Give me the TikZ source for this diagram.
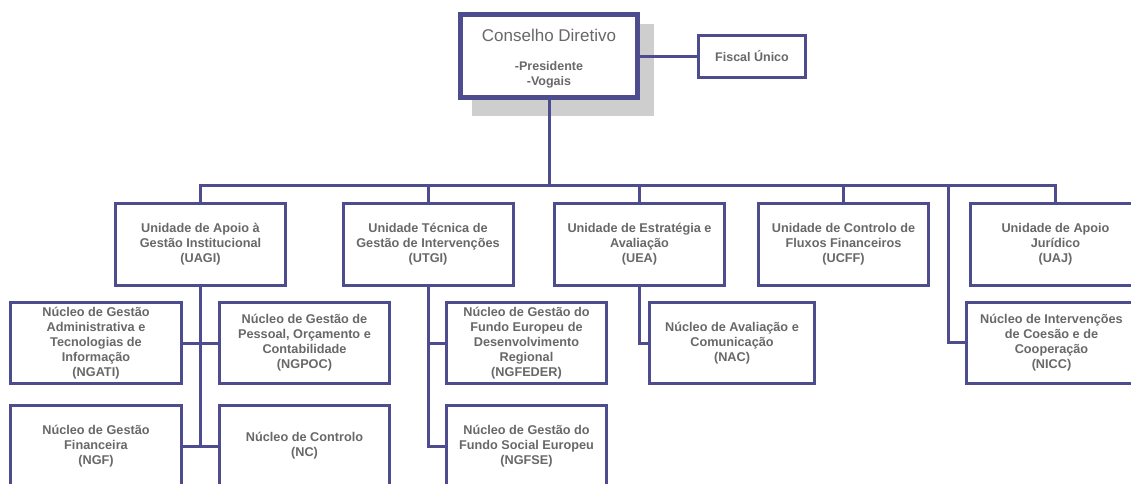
\documentclass[tikz,border=0pt]{standalone}
\usepackage{fontspec}
\setmainfont{Liberation Sans}

\definecolor{orgline}{RGB}{76,76,142}
\definecolor{orgtext}{RGB}{104,104,104}
\definecolor{orgshadow}{RGB}{206,206,206}

\begin{document}
\begin{tikzpicture}[x=1pt, y=-1pt, font=\bfseries\fontsize{12.7}{15}\selectfont,
	box/.style={draw=orgline, line width=3pt, fill=white, align=center, text=orgtext, inner sep=2pt},
	unit/.style={box, minimum width=170pt, minimum height=82pt},
	nucleo/.style={box, minimum height=81pt},
	link/.style={draw=orgline, line width=3pt}]
	\useasboundingbox (0,0) rectangle (1131,483);
		% top
		\fill[orgshadow] (472,24) rectangle (654,116);
		\node[box, line width=5pt, minimum width=177pt, minimum height=83pt](cd) at (549,56) {};
		\node[text=orgtext, font=\mdseries\fontsize{17}{19}\selectfont](cdtitle) at (549,35) {Conselho Diretivo};
		\node[text=orgtext, align=center, font=\bfseries\fontsize{12.5}{15}\selectfont](cdmembers) at (549,75) {-Presidente\\-Vogais};
		\node[box, font=\bfseries\fontsize{12.5}{15}\selectfont, minimum width=107pt, minimum height=42pt](fu) at (752,56.5) {Fiscal Único};
		% unidades
		\node[unit](uagi) at (200.5,244.5) {Unidade de Apoio à\\Gestão Institucional\\(UAGI)};
		\node[unit](utgi) at (428,244.5) {Unidade Técnica de\\Gestão de Intervenções\\(UTGI)};
		\node[unit](uea) at (639.5,244.5) {Unidade de Estratégia e\\Avaliação\\(UEA)};
		\node[unit](ucff) at (843.5,244.5) {Unidade  de Controlo de\\Fluxos Financeiros\\(UCFF)};
		\node[unit](uaj) at (1055.5,244.5) {Unidade de Apoio\\Jurídico\\(UAJ)};
		% nucleos
		\node[nucleo, minimum width=171pt](ngati) at (96,343) {Núcleo de Gestão\\Administrativa e\\Tecnologias de\\Informação\\(NGATI)};
		\node[nucleo, minimum width=170pt](ngpoc) at (304.5,343) {Núcleo de Gestão de\\Pessoal, Orçamento e\\Contabilidade\\(NGPOC)};
		\node[nucleo, minimum width=160pt](ngfeder) at (526.5,343) {Núcleo de Gestão do\\Fundo Europeu de\\Desenvolvimento\\Regional\\(NGFEDER)};
		\node[nucleo, minimum width=165pt](nac) at (732,343) {Núcleo de Avaliação e\\Comunicação\\(NAC)};
		\node[nucleo, minimum width=170pt](nicc) at (1051.5,342.5) {Núcleo de Intervenções\\de Coesão e de\\Cooperação\\(NICC)};
		\node[nucleo, minimum width=171pt](ngf) at (96,446) {Núcleo de Gestão\\Financeira\\(NGF)};
		\node[nucleo, minimum width=170pt](nc) at (304.5,446) {Núcleo de Controlo\\(NC)};
		\node[nucleo, minimum width=160pt](ngfse) at (526.5,446) {Núcleo de Gestão do\\Fundo Social Europeu\\(NGFSE)};
		% ligacoes
		\coordinate (bus) at (549,185);
		\coordinate (niccbranch) at (948,185);
		\draw[link] (cd.east) -- (cd.east -| fu.west);
		\draw[link] (cd.south) -- (bus);
		\draw[link] (uagi.north) |- (bus) -| (uaj.north);
		\draw[link] (utgi.north) -- (utgi.north |- bus);
		\draw[link] (uea.north) -- (uea.north |- bus);
		\draw[link] (ucff.north) -- (ucff.north |- bus);
		\draw[link] (niccbranch) |- (nicc.west);
		\draw[link] (uagi.south) -- (uagi.south |- ngf.east);
		\draw[link] (ngati.east) -- (ngpoc.west);
		\draw[link] (ngf.east) -- (nc.west);
		\draw[link] (utgi.south) |- (ngfse.west);
		\draw[link] (utgi.south |- ngfeder.west) -- (ngfeder.west);
		\draw[link] (uea.south) |- (nac.west);
\end{tikzpicture}
\end{document}
